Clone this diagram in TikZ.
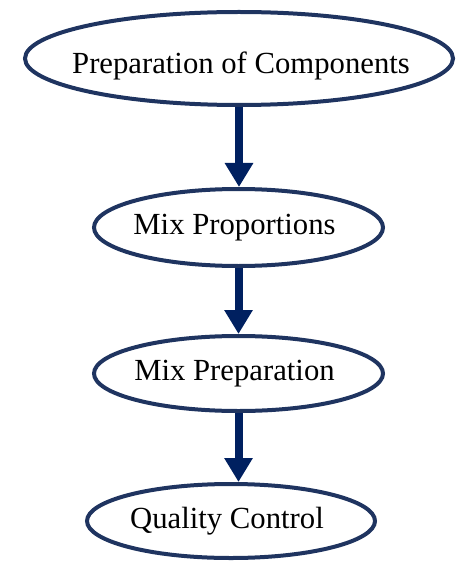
\documentclass[tikz,border=0pt]{standalone}
\usepackage{fontspec}
\setmainfont{Liberation Serif}
\usetikzlibrary{shapes.geometric,arrows.meta}
\definecolor{ringblue}{RGB}{31,52,96}
\definecolor{arrowblue}{RGB}{0,32,96}
\newcommand{\shtxt}[2]{\makebox[0pt]{\kern#1#2}}
\begin{document}
\begin{tikzpicture}[x=1pt,y=-1pt,
  stage/.style={ellipse,draw=ringblue,line width=4pt,inner sep=0pt,
    text height=21pt,text depth=7pt,
    font=\fontsize{30.7}{37}\selectfont},
  flow/.style={draw=arrowblue,line width=8pt,
    -{Triangle[width=27pt,length=24pt]}}]
\useasboundingbox (0,0) rectangle (457,561);
\node[stage,minimum width=428pt,minimum height=93pt,
  text height=36pt,text depth=5pt] (e1) at (239,58.5) {\shtxt{4pt}{Preparation of Components}};
\node[stage,minimum width=289pt,minimum height=77pt] (e2) at (238.5,227.5) {\shtxt{-8pt}{Mix Proportions}};
\node[stage,minimum width=289pt,minimum height=75pt] (e3) at (238.5,373.5) {\shtxt{-8pt}{Mix Preparation}};
\node[stage,minimum width=288pt,minimum height=74pt] (e4) at (231,521) {\shtxt{-8pt}{Quality Control}};
\draw[flow] (e1.south) -- (e1.south |- e2.north);
\draw[flow] (e2.south) -- (e3.north);
\draw[flow] (e3.south) -- (e3.south |- e4.north);
\end{tikzpicture}
\end{document}
